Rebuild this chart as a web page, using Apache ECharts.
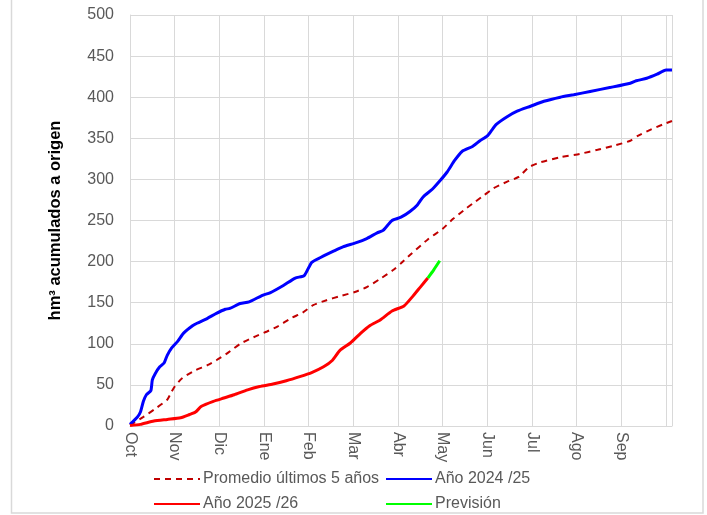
<!DOCTYPE html>
<html>
<head>
<meta charset="UTF-8" />
<script src="https://cdn.jsdelivr.net/npm/echarts@6/dist/echarts.min.js"></script>
<style type="text/css">
    *{
        margin: 0;
        padding: 0;
    }
    body{
        background: #ffffff;
    }
    #chart{
        width: 707px;
        height: 515px;
    }
</style>
</head>
<body>
<div id="chart"></div>
<script type="text/javascript">
    // etiquetas del eje x (una cada 30 dias desde el 1 de octubre)
    var monthLabels = ['Oct', 'Nov', 'Dic', 'Ene', 'Feb', 'Mar', 'Abr', 'May', 'Jun', 'Jul', 'Ago', 'Sep'];

    // [dia desde 1-oct, hm3 acumulados]
    var promedio = [
        [0, 1], [9, 11], [17, 21], [25, 32], [28, 42], [30, 48], [35, 58], [43, 67],
        [52, 74], [58, 80], [65, 88], [74, 100], [83, 108], [92, 115], [99, 121],
        [108, 131], [116, 138], [123, 147], [132, 153], [141, 158], [151, 163],
        [159, 169], [168, 179], [177, 190], [182, 198], [188, 208], [200, 227],
        [210, 240], [217, 252], [226, 265], [232, 273], [238, 281], [244, 289],
        [253, 297], [261, 303], [268, 315], [276, 321], [289, 327], [302, 331],
        [314, 336], [325, 341], [336, 347], [341, 353], [349, 360], [358, 367], [364, 371]
    ];
    var anio2425 = [
        [0, 2], [5, 11], [7, 17], [9, 30], [11, 38], [14, 43], [15, 56], [17, 64],
        [20, 72], [23, 77], [25, 86], [28, 95], [32, 103], [36, 113], [42, 122],
        [45, 125], [52, 131], [58, 137], [64, 142], [67, 143], [74, 149], [80, 151],
        [89, 159], [94, 162], [103, 171], [111, 180], [117, 183], [122, 199],
        [128, 205], [137, 213], [143, 218], [152, 223], [159, 228], [166, 235],
        [170, 238], [176, 250], [182, 254], [188, 261], [193, 269], [197, 279],
        [203, 288], [208, 298], [213, 309], [218, 323], [223, 334], [230, 340],
        [235, 347], [240, 353], [243, 360], [246, 367], [253, 376], [260, 383],
        [269, 389], [278, 395], [289, 400], [298, 403], [309, 407], [323, 412],
        [336, 417], [340, 420], [347, 423], [354, 428], [360, 433], [364, 433]
    ];
    var anio2526 = [
        [0, 0.5], [7, 2], [16, 6], [25, 8], [34, 10], [40, 14], [44, 17], [48, 24],
        [56, 30], [63, 34], [70, 38], [79, 44], [87, 48], [96, 51], [105, 55],
        [114, 60], [122, 65], [130, 72], [136, 80], [141, 92], [148, 101],
        [155, 113], [161, 122], [168, 129], [176, 140], [184, 146], [190, 158],
        [195, 169], [200, 180]
    ];
    var prevision = [[200, 180], [204, 190], [208, 201]];

    var yTicks = [0, 50, 100, 150, 200, 250, 300, 350, 400, 450, 500];

    var myChart = echarts.init(document.getElementById('chart'));
    var gridColor = '#d9d9d9';
    var textColor = '#595959';
    var font = 'Liberation Sans, Arial, sans-serif';

    function legendAt(name, left, top) {
        return {
            data: [name],
            left: left,
            top: top,
            itemWidth: 46,
            itemHeight: 14,
            itemGap: 0,
            selectedMode: false,
            itemStyle: { opacity: 0 },
            textStyle: { fontSize: 16, color: textColor, fontFamily: font, padding: [0, 0, 0, -2] }
        };
    }

    var option = {
        backgroundColor: '#ffffff',
        animation: false,
        grid: { left: 130, right: 35, top: 15, bottom: 89, containLabel: false },
        graphic: [{
            type: 'rect',
            shape: { x: 11.5, y: -5, width: 691.5, height: 518 },
            style: { fill: 'none', stroke: gridColor, lineWidth: 1.5 },
            silent: true
        }],
        legend: [
            legendAt('Promedio últimos 5 años', 148, 466),
            legendAt('Año 2024 /25', 380, 466),
            legendAt('Año 2025 /26', 148, 491),
            legendAt('Previsión', 380, 491)
        ],
        xAxis: {
            type: 'value',
            min: 0,
            max: 364,
            interval: 30,
            axisLine: { show: true, lineStyle: { color: gridColor, width: 1 } },
            axisTick: { show: false },
            splitLine: { show: true, lineStyle: { color: gridColor, width: 1 } },
            axisLabel: {
                rotate: -90,
                margin: 6,
                fontSize: 16,
                color: textColor,
                fontFamily: font,
                showMaxLabel: false,
                formatter: function (v) {
                    if (v % 30 !== 0) return '';
                    return monthLabels[v / 30] || '';
                }
            }
        },
        yAxis: {
            type: 'value',
            min: yTicks[0],
            max: yTicks[yTicks.length - 1],
            interval: 50,
            name: 'hm³ acumulados a origen',
            nameLocation: 'middle',
            nameGap: 66,
            nameTextStyle: { fontSize: 16.5, fontWeight: 'bold', color: '#000000', fontFamily: font },
            axisLine: { show: true, lineStyle: { color: gridColor, width: 1 } },
            axisTick: { show: false },
            splitLine: { show: true, lineStyle: { color: gridColor, width: 1 } },
            axisLabel: { fontSize: 16, color: textColor, fontFamily: font, margin: 16 }
        },
        series: [{
            name: 'Promedio últimos 5 años',
            type: 'line',
            data: promedio,
            symbol: 'none',
            smooth: 0.2,
            lineStyle: { color: '#c00000', width: 2, type: [6, 5] },
            itemStyle: { color: '#c00000' }
        }, {
            name: 'Año 2024 /25',
            type: 'line',
            data: anio2425,
            symbol: 'none',
            smooth: 0.2,
            lineStyle: { color: '#0000ff', width: 3 },
            itemStyle: { color: '#0000ff' }
        }, {
            name: 'Año 2025 /26',
            type: 'line',
            data: anio2526,
            symbol: 'none',
            smooth: 0.2,
            lineStyle: { color: '#ff0000', width: 3 },
            itemStyle: { color: '#ff0000' }
        }, {
            name: 'Previsión',
            type: 'line',
            data: prevision,
            symbol: 'none',
            smooth: 0.2,
            lineStyle: { color: '#00ff00', width: 3 },
            itemStyle: { color: '#00ff00' }
        }]
    };
    myChart.setOption(option);
</script>
</body>
</html>
